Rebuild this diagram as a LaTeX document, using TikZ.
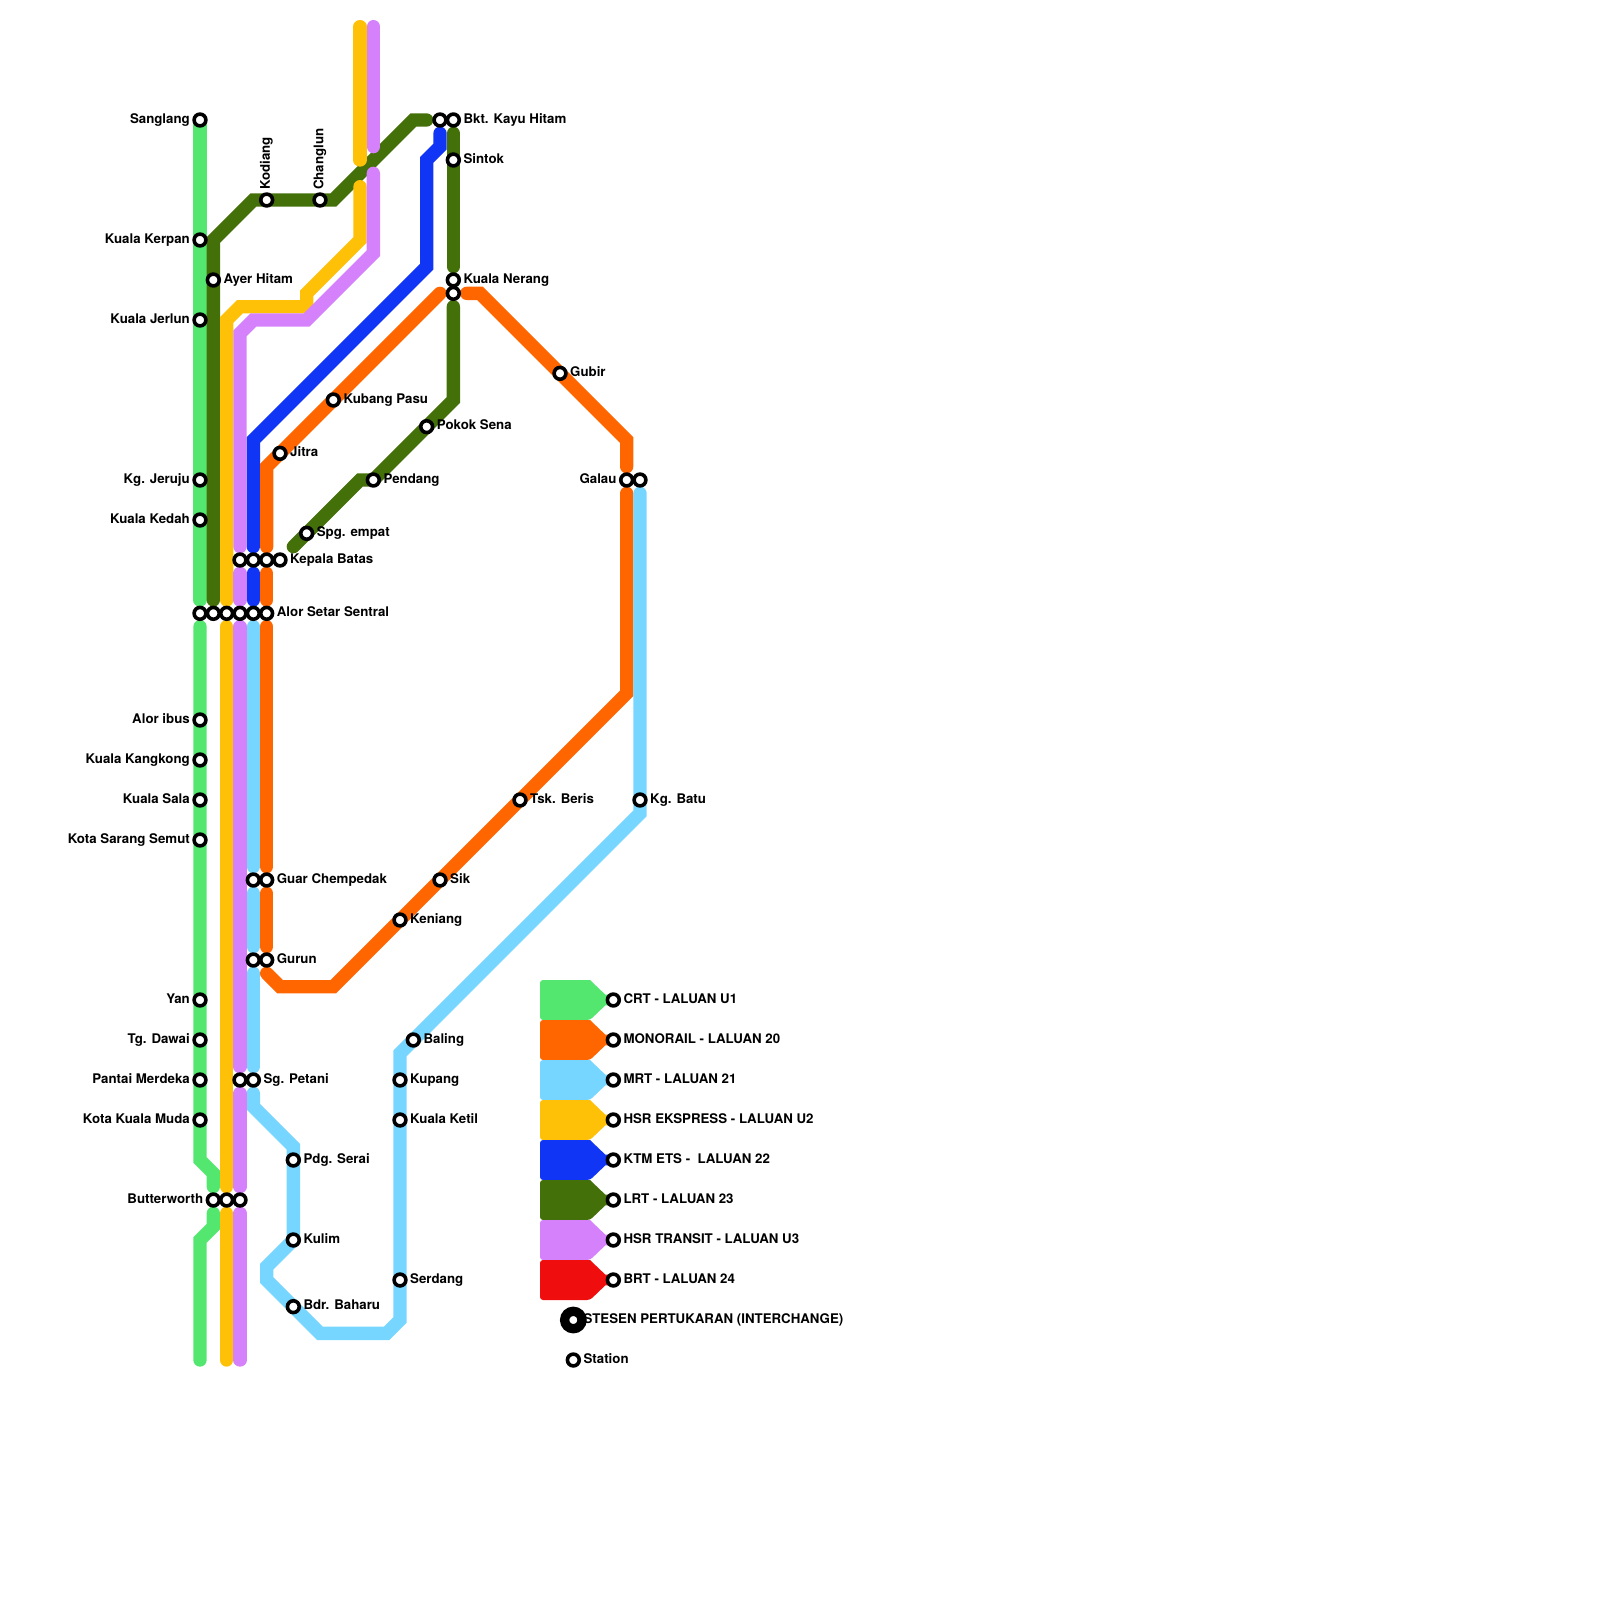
\documentclass[tikz,border=0pt]{standalone}
\usepackage{fontspec}
\setmainfont{TeX Gyre Heros}
\usepackage{xcolor}
\usepackage{tikz}
\usetikzlibrary{positioning,backgrounds}
\definecolor{crtcol}{HTML}{53E770}
\definecolor{monocol}{HTML}{FF6600}
\definecolor{mrtcol}{HTML}{76D6FF}
\definecolor{hsrxcol}{HTML}{FFC008}
\definecolor{ktmcol}{HTML}{1035F5}
\definecolor{lrtcol}{HTML}{44700A}
\definecolor{hsrtcol}{HTML}{D681FC}
\definecolor{brtcol}{HTML}{EF0D0E}

\begin{document}
\begin{tikzpicture}[
  x=13.333pt,y=-13.333pt,
  font=\fontsize{13.28pt}{16pt}\selectfont\bfseries,
  node distance=10pt,
  station/.style={circle,draw=black,fill=white,line width=3.6pt,minimum size=11.8pt,inner sep=0pt},
  interchange/.style={circle,draw=black,fill=white,line width=9.3pt,minimum size=17.4pt,inner sep=0pt},
  stnlabel/.style={inner sep=0pt,text height=9.5pt,text depth=3pt},
  metro/.style={line width=13.333pt,line cap=round},
  crt/.style={metro,draw=crtcol},
  mono/.style={metro,draw=monocol},
  mrt/.style={metro,draw=mrtcol},
  hsrx/.style={metro,draw=hsrxcol},
  ktm/.style={metro,draw=ktmcol},
  lrt/.style={metro,draw=lrtcol},
  hsrt/.style={metro,draw=hsrtcol},
  stopstart/.style={shorten <=13.333pt},
  stopend/.style={shorten >=13.333pt},
  stopboth/.style={shorten <=13.333pt,shorten >=13.333pt}
]
\useasboundingbox (0,0) rectangle (120,120);

\node[station] (sanglang) at (15,9) {};
\node[station] (kerpan) at (15,18) {};
\node[station] (jerlun) at (15,24) {};
\node[station] (jeruju) at (15,36) {};
\node[station] (kedah) at (15,39) {};
\node[station] (aloribus) at (15,54) {};
\node[station] (kangkong) at (15,57) {};
\node[station] (sala) at (15,60) {};
\node[station] (sarang) at (15,63) {};
\node[station] (yan) at (15,75) {};
\node[station] (dawai) at (15,78) {};
\node[station] (merdeka) at (15,81) {};
\node[station] (kualamuda) at (15,84) {};
\node[station] (ayer) at (16,21) {};
\node[station] (kodiang) at (20,15) {};
\node[station] (changlun) at (24,15) {};
\node[station] (bkt1) at (33,9) {};
\node[station] (bkt2) at (34,9) {};
\node[station] (sintok) at (34,12) {};
\node[station] (nerang1) at (34,21) {};
\node[station] (nerang2) at (34,22) {};
\node[station] (gubir) at (42,28) {};
\node[station] (kubang) at (25,30) {};
\node[station] (pokok) at (32,32) {};
\node[station] (jitra) at (21,34) {};
\node[station] (pendang) at (28,36) {};
\node[station] (galau1) at (47,36) {};
\node[station] (galau2) at (48,36) {};
\node[station] (spg) at (23,40) {};
\node[station] (kepala1) at (18,42) {};
\node[station] (kepala2) at (19,42) {};
\node[station] (kepala3) at (20,42) {};
\node[station] (kepala4) at (21,42) {};
\node[station] (alor1) at (15,46) {};
\node[station] (alor2) at (16,46) {};
\node[station] (alor3) at (17,46) {};
\node[station] (alor4) at (18,46) {};
\node[station] (alor5) at (19,46) {};
\node[station] (alor6) at (20,46) {};
\node[station] (beris) at (39,60) {};
\node[station] (batu) at (48,60) {};
\node[station] (guar1) at (19,66) {};
\node[station] (guar2) at (20,66) {};
\node[station] (sik) at (33,66) {};
\node[station] (keniang) at (30,69) {};
\node[station] (gurun1) at (19,72) {};
\node[station] (gurun2) at (20,72) {};
\node[station] (baling) at (31,78) {};
\node[station] (kupang) at (30,81) {};
\node[station] (petani1) at (18,81) {};
\node[station] (petani2) at (19,81) {};
\node[station] (ketil) at (30,84) {};
\node[station] (serai) at (22,87) {};
\node[station] (butter1) at (16,90) {};
\node[station] (butter2) at (17,90) {};
\node[station] (butter3) at (18,90) {};
\node[station] (kulim) at (22,93) {};
\node[station] (serdang) at (30,96) {};
\node[station] (baharu) at (22,98) {};

\node[stnlabel,left=of sanglang.center] (sanglangtxt) {Sanglang};
\node[stnlabel,left=of kerpan.center] (kerpantxt) {Kuala Kerpan};
\node[stnlabel,left=of jerlun.center] (jerluntxt) {Kuala Jerlun};
\node[stnlabel,left=of jeruju.center] (jerujutxt) {Kg. Jeruju};
\node[stnlabel,left=of kedah.center] (kedahtxt) {Kuala Kedah};
\node[stnlabel,left=of aloribus.center] (aloribustxt) {Alor ibus};
\node[stnlabel,left=of kangkong.center] (kangkongtxt) {Kuala Kangkong};
\node[stnlabel,left=of sala.center] (salatxt) {Kuala Sala};
\node[stnlabel,left=of sarang.center] (sarangtxt) {Kota Sarang Semut};
\node[stnlabel,left=of yan.center] (yantxt) {Yan};
\node[stnlabel,left=of dawai.center] (dawaitxt) {Tg. Dawai};
\node[stnlabel,left=of merdeka.center] (merdekatxt) {Pantai Merdeka};
\node[stnlabel,left=of kualamuda.center] (kualamudatxt) {Kota Kuala Muda};
\node[stnlabel,left=of butter1.center] (buttertxt) {Butterworth};
\node[stnlabel,left=of galau1.center] (galautxt) {Galau};
\node[stnlabel,right=of ayer.center] (ayertxt) {Ayer Hitam};
\node[stnlabel,right=of bkt2.center] (bkttxt) {Bkt. Kayu Hitam};
\node[stnlabel,right=of sintok.center] (sintoktxt) {Sintok};
\node[stnlabel,right=of nerang1.center] (nerangtxt) {Kuala Nerang};
\node[stnlabel,right=of gubir.center] (gubirtxt) {Gubir};
\node[stnlabel,right=of kubang.center] (kubangtxt) {Kubang Pasu};
\node[stnlabel,right=of pokok.center] (pokoktxt) {Pokok Sena};
\node[stnlabel,right=of jitra.center] (jitratxt) {Jitra};
\node[stnlabel,right=of pendang.center] (pendangtxt) {Pendang};
\node[stnlabel,right=of spg.center] (spgtxt) {Spg. empat};
\node[stnlabel,right=of kepala4.center] (kepalatxt) {Kepala Batas};
\node[stnlabel,right=of alor6.center] (alortxt) {Alor Setar Sentral};
\node[stnlabel,right=of beris.center] (beristxt) {Tsk. Beris};
\node[stnlabel,right=of batu.center] (batutxt) {Kg. Batu};
\node[stnlabel,right=of guar2.center] (guartxt) {Guar Chempedak};
\node[stnlabel,right=of sik.center] (siktxt) {Sik};
\node[stnlabel,right=of keniang.center] (keniangtxt) {Keniang};
\node[stnlabel,right=of gurun2.center] (guruntxt) {Gurun};
\node[stnlabel,right=of baling.center] (balingtxt) {Baling};
\node[stnlabel,right=of kupang.center] (kupangtxt) {Kupang};
\node[stnlabel,right=of petani2.center] (petanitxt) {Sg. Petani};
\node[stnlabel,right=of ketil.center] (ketiltxt) {Kuala Ketil};
\node[stnlabel,right=of serai.center] (seraitxt) {Pdg. Serai};
\node[stnlabel,right=of kulim.center] (kulimtxt) {Kulim};
\node[stnlabel,right=of serdang.center] (serdangtxt) {Serdang};
\node[stnlabel,right=of baharu.center] (baharutxt) {Bdr. Baharu};
\node[stnlabel,rotate=90,anchor=west] (kodiangtxt) at ([yshift=10pt]kodiang.center) {Kodiang};
\node[stnlabel,rotate=90,anchor=west] (changluntxt) at ([yshift=10pt]changlun.center) {Changlun};

\foreach \col/\row/\txt in {crtcol/75/CRT - LALUAN U1,monocol/78/MONORAIL - LALUAN 20,mrtcol/81/MRT - LALUAN 21,hsrxcol/84/HSR EKSPRESS - LALUAN U2,ktmcol/87/KTM ETS -~ LALUAN 22,lrtcol/90/LRT - LALUAN 23,hsrtcol/93/HSR TRANSIT - LALUAN U3,brtcol/96/BRT - LALUAN 24}{
  \fill[\col,rounded corners=3pt] (44.25,\row-1.5) -- (40.5,\row-1.5) -- (40.5,\row+1.5) -- (44.25,\row+1.5) [sharp corners] -- (45.4,\row+.4) -- (46,\row+.4) -- (46,\row-.4) -- (45.4,\row-.4) -- cycle;
  \node[station] (leg\row) at (46,\row) {};
  \node[stnlabel,right=10pt of leg\row.center] (legtxt\row) {\txt};
}
\node[interchange] (legswap) at (43,99) {};
\node[stnlabel,right=10pt of legswap.center] (legswaptxt) {STESEN PERTUKARAN (INTERCHANGE)};
\node[station] (legstn) at (43,102) {};
\node[stnlabel,right=10pt of legstn.center] (legstntxt) {Station};

\begin{scope}[on background layer]
\coordinate (crtend) at (15,102);
\coordinate (hsrxend) at (17,102);
\coordinate (hsrtend) at (18,102);
\coordinate (lrtend) at (22,41);
\coordinate (monotop) at (33,22);
\coordinate (monolow) at (20,73);
\coordinate (hsrxtop) at (27,14);
\coordinate (hsrttop) at (28,13);
\coordinate (hsrxnorth) at (27,2);
\coordinate (hsrxcut) at (27,12);
\coordinate (hsrtnorth) at (28,2);
\coordinate (hsrtcut) at (28,11);

\draw[crt,stopend] (sanglang.center) -- (alor1.center);
\draw[crt,stopboth] (alor1.center) -- (15,87) -- (16,88) -- (butter1.center);
\draw[crt,stopstart] (butter1.center) -- (16,92) -- (15,93) -- (crtend);

\draw[lrt,stopboth] (alor2.center) -- (16,18) -- (19,15) -- (25,15) -- (31,9) -- (bkt1.center);
\draw[lrt,stopboth] (bkt2.center) -- (nerang1.center);
\draw[lrt,stopstart] (nerang2.center) -- (34,30) -- (28,36) -- (27,36) -- (lrtend);

\draw[ktm,stopboth] (alor5.center) -- (kepala2.center);
\draw[ktm,stopboth] (kepala2.center) -- (19,33) -- (32,20) -- (32,12) -- (33,11) -- (bkt1.center);

\draw[mono,stopboth] (alor6.center) -- (kepala3.center);
\draw[mono,stopstart] (kepala3.center) -- (20,35) -- (monotop);
\draw[mono,stopboth] (nerang2.center) -- (36,22) -- (47,33) -- (galau1.center);
\draw[mono,stopstart] (galau1.center) -- (47,52) -- (25,74) -- (21,74) -- (monolow);
\draw[mono,stopboth] (gurun2.center) -- (guar2.center);
\draw[mono,stopboth] (guar2.center) -- (alor6.center);

\draw[mrt,stopboth] (alor5.center) -- (guar1.center);
\draw[mrt,stopboth] (guar1.center) -- (gurun1.center);
\draw[mrt,stopboth] (gurun1.center) -- (petani2.center);
\draw[mrt,stopboth] (petani2.center) -- (19,83) -- (22,86) -- (22,93) -- (20,95) -- (20,96) -- (24,100) -- (29,100) -- (30,99) -- (30,79) -- (48,61) -- (galau2.center);

\draw[hsrx,stopstart] (alor3.center) -- (17,24) -- (18,23) -- (23,23) -- (23,22) -- (27,18) -- (hsrxtop);
\draw[hsrx,stopboth] (alor3.center) -- (butter2.center);
\draw[hsrx,stopstart] (butter2.center) -- (hsrxend);
\draw[hsrx] (hsrxnorth) -- (hsrxcut);

\draw[hsrt,stopstart] (kepala1.center) -- (18,25) -- (19,24) -- (23,24) -- (28,19) -- (hsrttop);
\draw[hsrt,stopboth] (kepala1.center) -- (alor4.center);
\draw[hsrt,stopboth] (alor4.center) -- (petani1.center);
\draw[hsrt,stopboth] (petani1.center) -- (butter3.center);
\draw[hsrt,stopstart] (butter3.center) -- (hsrtend);
\draw[hsrt] (hsrtnorth) -- (hsrtcut);
\end{scope}
\end{tikzpicture}
\end{document}
